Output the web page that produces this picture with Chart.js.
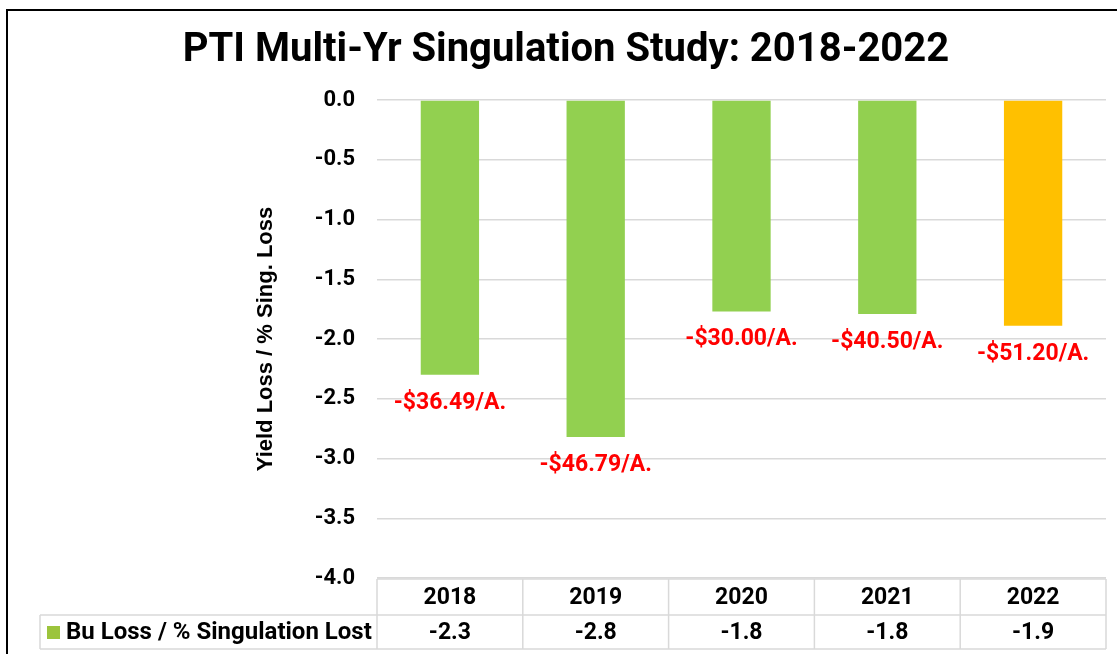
<!DOCTYPE html>
<html>
<head>
<meta charset="utf-8">
<script src="https://cdn.jsdelivr.net/npm/chart.js@4.4.1/dist/chart.umd.min.js"></script>
<style>
  html, body { margin: 0; padding: 0; background: #fff; }
  #wrap { position: relative; width: 1117px; height: 654px; }
  #frame { position: absolute; left: 6px; top: 9px; width: 1200px; height: 700px; border: 2px solid #000; pointer-events: none; }
</style>
</head>
<body>
<div id="wrap">
  <canvas id="c" width="1117" height="654"></canvas>
  <div id="frame"></div>
</div>
<script>
const categories = ['2018', '2019', '2020', '2021', '2022'];
const buLoss = [-2.3, -2.82, -1.77, -1.79, -1.89];
const tableValues = ['-2.3', '-2.8', '-1.8', '-1.8', '-1.9'];
const dollarLabels = ['-$36.49/A.', '-$46.79/A.', '-$30.00/A.', '-$40.50/A.', '-$51.20/A.'];
const barColors = ['#92D050', '#92D050', '#92D050', '#92D050', '#FFC000'];
const seriesName = 'Bu Loss / % Singulation Lost';
const titleText = 'PTI Multi-Yr Singulation Study: 2018-2022';
const yTitle = 'Yield Loss / % Sing. Loss';

const FONT = 'Roboto';
const gridColor = '#D9D9D9';

const labelPlugin = {
  id: 'dollarLabels',
  afterDatasetsDraw(chart) {
    const ctx = chart.ctx;
    const meta = chart.getDatasetMeta(0);
    ctx.save();
    ctx.font = 'bold 23px ' + FONT;
    ctx.fillStyle = '#FF0000';
    ctx.textAlign = 'center';
    ctx.textBaseline = 'middle';
    meta.data.forEach((bar, i) => {
      ctx.fillText(dollarLabels[i], bar.x, bar.y + 28);
    });
    ctx.restore();
  }
};

const tablePlugin = {
  id: 'dataTable',
  afterDraw(chart) {
    const ctx = chart.ctx;
    const x = chart.scales.x;
    const area = chart.chartArea;
    const top = area.bottom + 1;
    const mid = top + 36;
    const bot = mid + 34;
    const left = area.left;
    const right = area.right;
    const legLeft = 40;
    ctx.save();
    ctx.strokeStyle = gridColor;
    ctx.lineWidth = 1.5;
    ctx.beginPath();
    ctx.moveTo(left, top); ctx.lineTo(right, top);
    ctx.moveTo(legLeft, mid); ctx.lineTo(right, mid);
    ctx.moveTo(legLeft, bot); ctx.lineTo(right, bot);
    ctx.moveTo(legLeft, mid); ctx.lineTo(legLeft, bot);
    const n = categories.length;
    const step = (right - left) / n;
    for (let i = 0; i <= n; i++) {
      const xx = left + i * step;
      ctx.moveTo(xx, top); ctx.lineTo(xx, bot);
    }
    ctx.stroke();
    ctx.font = 'bold 23px ' + FONT;
    ctx.fillStyle = '#000';
    ctx.textAlign = 'center';
    ctx.textBaseline = 'middle';
    categories.forEach((c, i) => {
      const cx = x.getPixelForValue(i);
      ctx.fillText(c, cx, (top + mid) / 2 + 1);
      ctx.fillText(tableValues[i], cx, (mid + bot) / 2 + 1);
    });
    // legend key
    ctx.fillStyle = '#9CC43C';
    ctx.fillRect(47, (mid + bot) / 2 - 6, 13, 13);
    ctx.fillStyle = '#000';
    ctx.textAlign = 'left';
    ctx.font = 'bold 24px ' + FONT;
    ctx.fillText(seriesName, 66, (mid + bot) / 2 + 1);
    ctx.restore();
  }
};

new Chart(document.getElementById('c'), {
  type: 'bar',
  data: {
    labels: categories,
    datasets: [{
      label: seriesName,
      data: buLoss,
      backgroundColor: barColors,
      barPercentage: 0.4,
      categoryPercentage: 1.0
    }]
  },
  options: {
    responsive: false,
    animation: false,
    layout: { padding: { left: 26, right: 11, top: 0, bottom: 76 } },
    plugins: {
      legend: { display: false },
      tooltip: { enabled: false },
      title: {
        display: true,
        text: titleText,
        color: '#000',
        font: { family: FONT, weight: 'bold', size: 40 },
        padding: { top: 27, bottom: 25 }
      }
    },
    scales: {
      x: {
        display: false
      },
      y: {
        min: -4,
        max: 0,
        ticks: {
          stepSize: 0.5,
          color: '#000',
          padding: 22,
          font: { family: FONT, weight: 'bold', size: 22 },
          callback: (v) => Number(v).toFixed(1)
        },
        grid: { color: gridColor, lineWidth: 1.5, drawTicks: false },
        border: { display: false },
        title: {
          display: true,
          text: yTitle,
          color: '#000',
          font: { family: 'Liberation Sans', weight: 'bold', size: 22 },
          padding: { top: 227, bottom: 0 }
        },
        afterFit: (s) => { s.width = 351; }
      }
    }
  },
  plugins: [labelPlugin, tablePlugin]
});
</script>
</body>
</html>
